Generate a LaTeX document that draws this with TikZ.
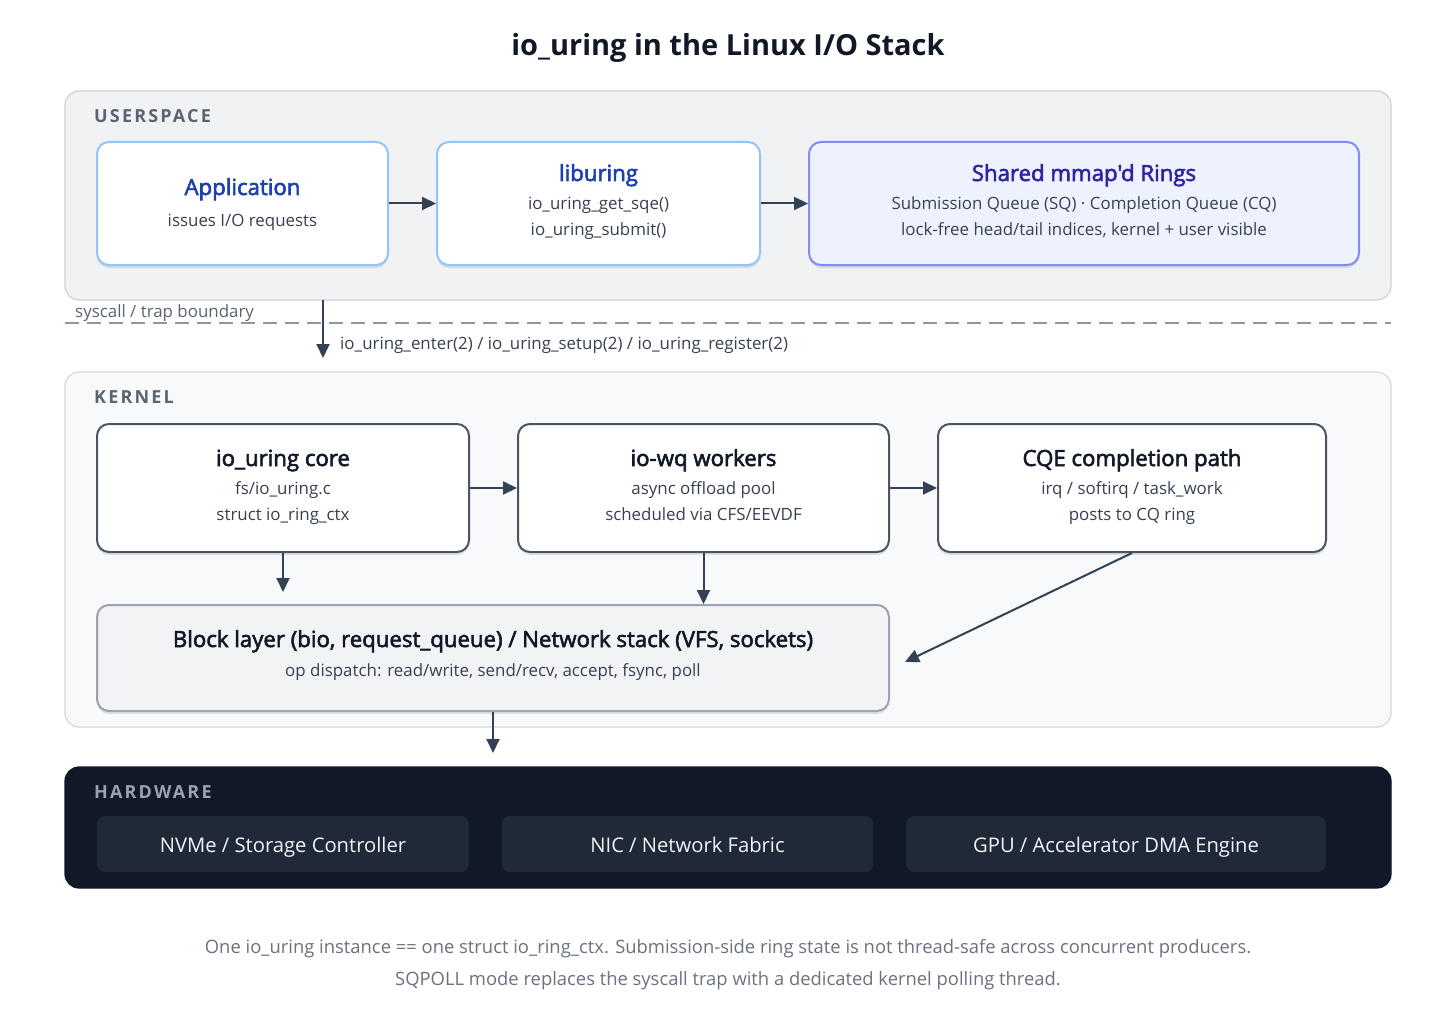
\documentclass[tikz,border=0pt]{standalone}
\usepackage{fontspec}
\setmainfont{Open Sans}
\newfontfamily\semifont[FakeBold=2.6]{Open Sans}
\newfontfamily\tagfont[LetterSpace=12]{Open Sans}
\usepackage{xcolor}
\usetikzlibrary{arrows.meta}
\usetikzlibrary{shadows}

\definecolor{usrfill}{HTML}{F1F2F4}
\definecolor{usrline}{HTML}{CDD1D8}
\definecolor{krnfill}{HTML}{F8F9FB}
\definecolor{krnline}{HTML}{D3D7DD}
\definecolor{appline}{HTML}{93C5FD}
\definecolor{appblue}{HTML}{1E40AF}
\definecolor{ringfill}{HTML}{EEF2FE}
\definecolor{ringline}{HTML}{818CF8}
\definecolor{ringtext}{HTML}{2E24A0}
\definecolor{boxline}{HTML}{4B5563}
\definecolor{inktext}{HTML}{111827}
\definecolor{subtext}{HTML}{374151}
\definecolor{tagtext}{HTML}{5B6472}
\definecolor{blkfill}{HTML}{F2F3F5}
\definecolor{blkline}{HTML}{9CA3AF}
\definecolor{arrowink}{HTML}{334155}
\definecolor{dashink}{HTML}{8E96A4}
\definecolor{hwfill}{HTML}{111827}
\definecolor{hwbox}{HTML}{1F2937}
\definecolor{hwtag}{HTML}{9CA3AF}
\definecolor{hwtext}{HTML}{F3F4F6}
\definecolor{foottext}{HTML}{6B7280}

\tikzset{
  panel/.style={rounded corners=14pt, line width=1.2pt, minimum width=1326pt, inner sep=0pt},
  card/.style={rounded corners=12pt, line width=2pt, inner sep=0pt, minimum height=123pt,
    drop shadow={shadow xshift=0pt, shadow yshift=-3pt, opacity=0.10, fill=black}},
  usrbox/.style={card, fill=white, draw=appline},
  ringbox/.style={card, fill=ringfill, draw=ringline},
  krnbox/.style={card, fill=white, draw=boxline, minimum height=128pt},
  hwunit/.style={rounded corners=8pt, fill=hwbox, inner sep=0pt, minimum height=56pt},
  txt/.style={inner sep=0pt, text depth=0pt},
  heading/.style={txt, font=\fontsize{29}{35}\selectfont\bfseries, text=inktext, text height=21pt},
  tag/.style={txt, anchor=west, font=\tagfont\bfseries\fontsize{18}{21}\selectfont, text=tagtext, text height=13pt},
  boxtitle/.style={txt, font=\semifont\fontsize{22.2}{26}\selectfont, text=inktext, text height=16pt},
  boxsub/.style={txt, font=\fontsize{16.9}{20}\selectfont, text=subtext, text height=12pt},
  hwlabel/.style={txt, font=\fontsize{20.2}{24}\selectfont, text=hwtext, text height=14.5pt},
  footnote/.style={txt, font=\fontsize{18.4}{22}\selectfont, text=foottext, text height=13pt},
  flow/.style={draw=arrowink, line width=2pt, -{Triangle[length=14pt, width=13pt]}},
}

\begin{document}
\begin{tikzpicture}[x=1pt, y=-1pt]
\useasboundingbox[fill=white] (0,0) rectangle (1456,1035);

\node[heading] (title) at (728,45) {io\_uring in the Linux I/O Stack};

% userspace
\node[panel, fill=usrfill, draw=usrline, minimum height=209pt] (usr) at (728,195.5) {};
\node[tag] (usr-tag) at (94,116) {USERSPACE};

\node[usrbox, minimum width=291pt] (app) at (242.5,203.5) {};
\node[boxtitle, text=appblue] (app-t) at (242.5,187) {Application};
\node[boxsub] (app-s) at (242.5,220) {issues I/O requests};

\node[usrbox, minimum width=323pt] (lib) at (598.5,203.5) {};
\node[boxtitle, text=appblue] (lib-t) at (598.5,173) {liburing};
\node[boxsub] (lib-s1) at (598.5,204) {io\_uring\_get\_sqe()};
\node[boxsub] (lib-s2) at (598.5,230) {io\_uring\_submit()};

\node[ringbox, minimum width=550pt] (rings) at (1084,203.5) {};
\node[boxtitle, text=ringtext] (rings-t) at (1084,173) {Shared mmap'd Rings};
\node[boxsub] (rings-s1) at (1084,204) {Submission Queue (SQ) · Completion Queue (CQ)};
\node[boxsub] (rings-s2) at (1084,230) {lock-free head/tail indices, kernel + user visible};

\draw[flow] (app) -- (lib);
\draw[flow] (lib) -- (rings);

% syscall boundary
\draw[dashink, line width=2pt, dash pattern=on 14pt off 8pt] (65,323) -- (1391,323);
\node[boxsub, text=tagtext, anchor=west] (trap) at (75,311) {syscall / trap boundary};
\coordinate (sys-top) at (323,300);
\coordinate (sys-end) at (323,358);
\draw[flow] (sys-top) -- (sys-end);
\node[boxsub, anchor=west] (sys-calls) at (340,343) {io\_uring\_enter(2) / io\_uring\_setup(2) / io\_uring\_register(2)};

% kernel
\node[panel, fill=krnfill, draw=krnline, minimum height=355pt] (krn) at (728,549.5) {};
\node[tag] (krn-tag) at (94,397) {KERNEL};

\node[krnbox, minimum width=372pt] (core) at (283,488) {};
\node[boxtitle] (core-t) at (283,458) {io\_uring core};
\node[boxsub] (core-s1) at (283,488) {fs/io\_uring.c};
\node[boxsub] (core-s2) at (283,514) {struct io\_ring\_ctx};

\node[krnbox, minimum width=371pt] (wq) at (703.5,488) {};
\node[boxtitle] (wq-t) at (703.5,458) {io-wq workers};
\node[boxsub] (wq-s1) at (703.5,488) {async offload pool};
\node[boxsub] (wq-s2) at (703.5,514) {scheduled via CFS/EEVDF};

\node[krnbox, minimum width=388pt] (cqe) at (1132,488) {};
\node[boxtitle] (cqe-t) at (1132,458) {CQE completion path};
\node[boxsub] (cqe-s1) at (1132,488) {irq / softirq / task\_work};
\node[boxsub] (cqe-s2) at (1132,514) {posts to CQ ring};

\node[card, fill=blkfill, draw=blkline, minimum width=792pt, minimum height=106pt] (blk) at (493,658) {};
\node[boxtitle] (blk-t) at (493,639) {Block layer (bio, request\_queue) / Network stack (VFS, sockets)};
\node[boxsub] (blk-s) at (493,670) {op dispatch: read/write, send/recv, accept, fsync, poll};

\draw[flow] (core) -- (wq);
\draw[flow] (wq) -- (cqe);
\coordinate (core-end) at (283,592);
\draw[flow] (core) -- (core-end);
\draw[flow] (wq) -- (wq |- blk.north);
\coordinate (cqe-end) at (905,662);
\draw[flow] (cqe.south) -- (cqe-end);
\coordinate (hw-in) at (493,753);
\draw[flow] (blk) -- (hw-in);

% hardware
\node[panel, fill=hwfill, draw=hwfill, minimum height=121pt] (hw) at (728,827.5) {};
\node[tag, text=hwtag] (hw-tag) at (94,792) {HARDWARE};
\node[hwunit, minimum width=372pt] (nvme) at (283,844) {};
\node[hwlabel] (nvme-t) at (283,845) {NVMe / Storage Controller};
\node[hwunit, minimum width=371pt] (nic) at (687.5,844) {};
\node[hwlabel] (nic-t) at (687.5,845) {NIC / Network Fabric};
\node[hwunit, minimum width=420pt] (gpu) at (1116,844) {};
\node[hwlabel] (gpu-t) at (1116,845) {GPU / Accelerator DMA Engine};

% notes
\node[footnote] (note1) at (728,947) {One io\_uring instance == one struct io\_ring\_ctx. Submission-side ring state is not thread-safe across concurrent producers.};
\node[footnote] (note2) at (728,979) {SQPOLL mode replaces the syscall trap with a dedicated kernel polling thread.};
\end{tikzpicture}
\end{document}
